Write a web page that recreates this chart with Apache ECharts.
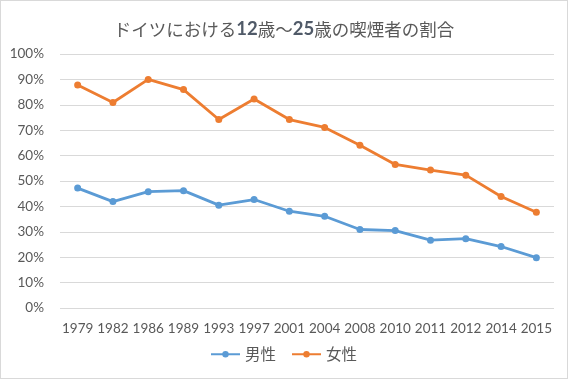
<!DOCTYPE html>
<html><head><meta charset="utf-8">
<script src="https://cdn.jsdelivr.net/npm/echarts@6/dist/echarts.min.js"></script>
<style>
html,body{margin:0;padding:0;background:#fff;}
#c{width:566px;height:377px;border:1px solid #d9d9d9;}
</style></head>
<body><div id="c"></div>
<script>
const title = 'ドイツにおける12歳〜25歳の喫煙者の割合';
const categories = ['1979','1982','1986','1989','1993','1997','2001','2004','2008','2010','2011','2012','2014','2015'];
const male = [47.2,41.9,45.8,46.2,40.5,42.7,38.1,36.1,30.9,30.5,26.7,27.3,24.2,19.8];
const female = [87.8,80.9,90.0,86.0,74.2,82.3,74.2,71.1,64.1,56.5,54.3,52.3,43.9,37.7];
const seriesNames = ['男性','女性'];
const font = 'Lato, "Noto Sans CJK JP", sans-serif';
const cjk = '"Noto Sans CJK JP", sans-serif';
const titleRich = title.split(/(\d+)/).filter(s=>s).map(s=>/^\d+$/.test(s)?'{b|'+s+'}':'{a|'+s+'}').join('');
const chart = echarts.init(document.getElementById('c'));
chart.setOption({
  animation:false,
  title:{text:titleRich,left:'center',top:14,textStyle:{fontWeight:'normal',rich:{
    a:{fontFamily:cjk,fontSize:17.5,fontWeight:'normal',color:'#595959'},
    b:{fontFamily:'Lato, sans-serif',fontSize:18.5,fontWeight:'bold',color:'#505a68'}
  }}},
  grid:{left:59,right:13,top:53,bottom:70},
  legend:{bottom:11,left:204,itemWidth:29,itemHeight:8,itemGap:15,textStyle:{fontFamily:cjk,fontSize:15.5,color:'#595959'},data:seriesNames},
  xAxis:{type:'category',data:categories,boundaryGap:true,axisLine:{show:false},axisTick:{show:false},axisLabel:{fontFamily:font,fontSize:13.5,color:'#595959',margin:14,interval:0}},
  yAxis:{type:'value',min:0,max:100,interval:10,axisLabel:{formatter:'{value}%',fontFamily:font,fontSize:13.5,color:'#595959',margin:16},splitLine:{lineStyle:{color:'#d9d9d9'}},axisLine:{show:false},axisTick:{show:false}},
  series:[
    {name:seriesNames[0],type:'line',data:male,color:'#5B9BD5',symbol:'circle',symbolSize:7,lineStyle:{width:2.8}},
    {name:seriesNames[1],type:'line',data:female,color:'#ED7D31',symbol:'circle',symbolSize:7,lineStyle:{width:2.8}}
  ]
});
</script></body></html>
